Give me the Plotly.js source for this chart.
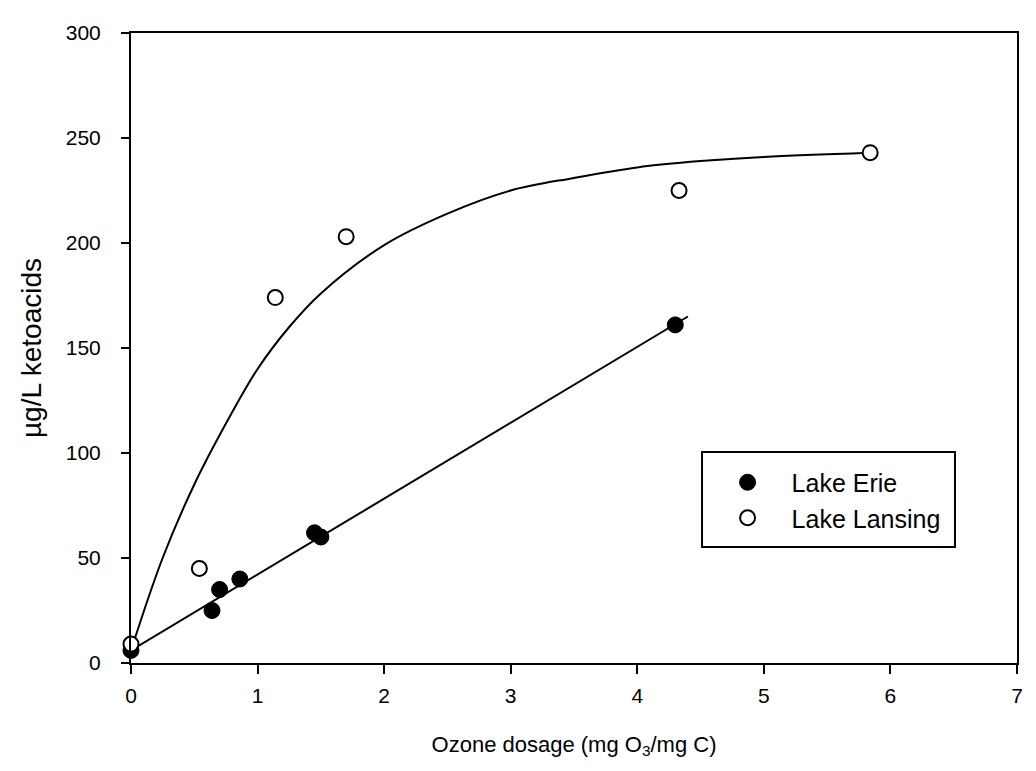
<!DOCTYPE html>
<html>
<head>
<meta charset="utf-8">
<script src="https://cdn.plot.ly/plotly-3.0.1.min.js"></script>
<style>
html,body{margin:0;padding:0;background:#fff;}
#chart{width:1036px;height:771px;}
</style>
</head>
<body>
<div id="chart"></div>
<script>
// Data
var erieX = [0, 0.64, 0.70, 0.86, 1.45, 1.50, 4.30];
var erieY = [6, 25, 35, 40, 62, 60, 161];
var lansingX = [0, 0.54, 1.14, 1.70, 4.33, 5.84];
var lansingY = [9, 45, 174, 203, 225, 243];
// fitted lines as drawn in the picture
var erieLineX = [0, 4.4];
var erieLineY = [6, 165];
var lansingCurveX = [0, 0.25, 0.5, 0.75, 1.0, 1.25, 1.5, 2.0, 2.5, 3.0, 3.5, 4.0, 4.5, 5.0, 5.84];
var lansingCurveY = [6, 50, 85, 114, 140, 160, 176, 199, 214, 225, 231, 236, 239, 241, 243];
var xTicks = [0, 1, 2, 3, 4, 5, 6, 7];
var yTicks = [0, 50, 100, 150, 200, 250, 300];

var FONT = 'Arial, "Liberation Sans", Helvetica, sans-serif';

var traces = [
  {x: erieLineX, y: erieLineY, mode: 'lines', line: {color: '#000', width: 2}, showlegend: false, hoverinfo: 'skip'},
  {x: lansingCurveX, y: lansingCurveY, mode: 'lines', line: {color: '#000', width: 2, shape: 'spline', smoothing: 1}, showlegend: false, hoverinfo: 'skip'},
  {x: erieX, y: erieY, mode: 'markers', name: 'Lake Erie', cliponaxis: false,
   marker: {symbol: 'circle', size: 16, color: '#000', line: {color: '#000', width: 1}}},
  {x: lansingX, y: lansingY, mode: 'markers', name: 'Lake Lansing', cliponaxis: false,
   marker: {symbol: 'circle', size: 15, color: '#fff', line: {color: '#000', width: 2}}}
];

var layout = {
  width: 1036, height: 771,
  margin: {l: 131, r: 19, t: 33, b: 108},
  paper_bgcolor: '#fff', plot_bgcolor: '#fff',
  font: {family: FONT, color: '#000', size: 21},
  showlegend: true,
  xaxis: {
    range: [0, 7], tickvals: xTicks, ticktext: xTicks.map(String),
    showgrid: false, zeroline: false,
    showline: true, linecolor: '#000', linewidth: 2, mirror: true,
    ticks: 'outside', ticklen: 9, tickwidth: 2, tickcolor: '#000',
    tickfont: {family: FONT, size: 21, color: '#000'},
    ticklabelstandoff: 4,
    title: {text: 'Ozone dosage (mg O<sub>3</sub>/mg C)', font: {family: FONT, size: 22, color: '#000'}, standoff: 30}
  },
  yaxis: {
    range: [0, 300], tickvals: yTicks, ticktext: yTicks.map(String),
    showgrid: false, zeroline: false,
    showline: true, linecolor: '#000', linewidth: 2, mirror: true,
    ticks: 'outside', ticklen: 8, tickwidth: 2, tickcolor: '#000',
    tickfont: {family: FONT, size: 21, color: '#000'},
    ticklabelstandoff: 16,
    title: {text: 'µg/L ketoacids', font: {family: FONT, size: 28, color: '#000'}, standoff: 16}
  },
  shapes: [
    {type: 'rect', xref: 'paper', yref: 'paper', x0: 0.6445, x1: 0.930, y0: 0.1841, y1: 0.3349,
     line: {color: '#000', width: 2}, fillcolor: '#fff', layer: 'above'}
  ],
  legend: {
    x: 0.644, y: 0.323, xanchor: 'left', yanchor: 'top',
    bgcolor: 'rgba(0,0,0,0)', borderwidth: 0,
    font: {family: FONT, size: 25, color: '#000'},
    itemwidth: 78, indentation: 2, tracegroupgap: 0
  }
};

Plotly.newPlot('chart', traces, layout, {displayModeBar: false, staticPlot: true});
</script>
</body>
</html>
